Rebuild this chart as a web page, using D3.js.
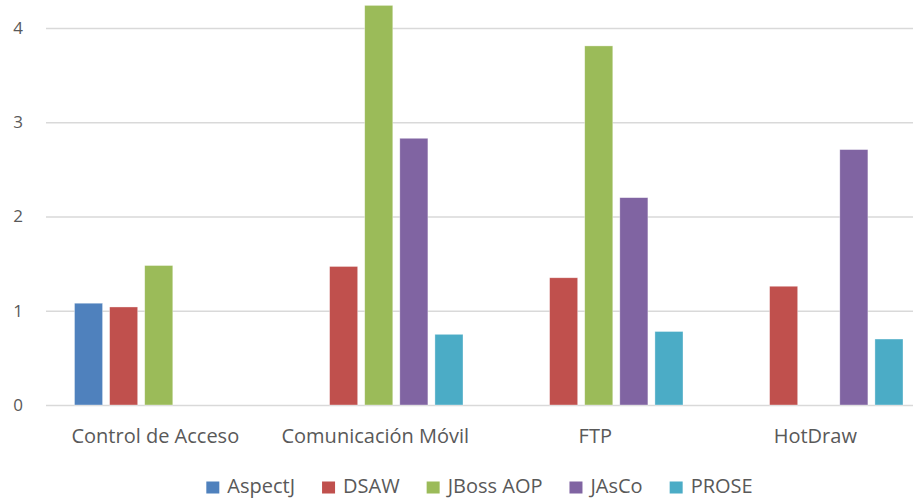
<!DOCTYPE html>
<html><head><meta charset="utf-8">
<script src="https://cdn.jsdelivr.net/npm/d3@7"></script>
<style>
html,body{margin:0;padding:0;background:#fff;overflow:hidden;}
svg{display:block;}
text{font-family:"Open Sans","Noto Sans",sans-serif;fill:#595959;}
</style></head>
<body>
<script>
const categories = ["Control de Acceso", "Comunicación Móvil", "FTP", "HotDraw"];
const seriesNames = ["AspectJ", "DSAW", "JBoss AOP", "JAsCo", "PROSE"];
const seriesColors = ["#4F81BD", "#C0504D", "#9BBB59", "#8064A2", "#4BACC6"];
const AspectJ  = [1.08, null, null, null];
const DSAW     = [1.04, 1.47, 1.35, 1.26];
const JBossAOP = [1.48, 4.24, 3.81, null];
const JAsCo    = [null, 2.83, 2.20, 2.71];
const PROSE    = [null, 0.75, 0.78, 0.70];
const yTicks = [0, 1, 2, 3, 4];

const seriesValues = [AspectJ, DSAW, JBossAOP, JAsCo, PROSE];
const W = 913, H = 498;
const svg = d3.select("body").append("svg").attr("width", W).attr("height", H);

const x = d3.scaleBand().domain(categories).range([45.3, 925.3]).paddingInner(0).paddingOuter(0);
const y = d3.scaleLinear().domain([0, 4.5]).range([405, 405 - 4.5 * 94.25]);
const inner = d3.scaleBand().domain(seriesNames).range([29.2, 29.2 + 5 * 33.7]).paddingInner(0.2).paddingOuter(0);

// gridlines
const grid = d3.axisLeft(y).tickValues(yTicks).tickSize(-(W - 46)).tickFormat("");
svg.append("g").attr("transform", "translate(46,0)").call(grid)
  .call(g => g.select(".domain").remove())
  .call(g => g.selectAll("line").attr("stroke", "#D9D9D9").attr("stroke-width", 1.3));

// y labels
const yAxis = d3.axisLeft(y).tickValues(yTicks).tickSize(0).tickPadding(0).tickFormat(d3.format("d"));
svg.append("g").attr("transform", "translate(23,0)").call(yAxis)
  .call(g => g.select(".domain").remove())
  .call(g => g.selectAll("text").attr("font-size", 17).attr("fill", "#595959")
    .style("font-family", '"Open Sans", sans-serif'));

// bars
seriesNames.forEach((s, si) => {
  const data = categories.map((c, ci) => ({c, v: seriesValues[si][ci]})).filter(d => d.v != null);
  svg.append("g").selectAll("rect").data(data).join("rect")
    .attr("x", d => x(d.c) + inner(s))
    .attr("y", d => y(d.v))
    .attr("width", inner.bandwidth())
    .attr("height", d => y(0) - y(d.v))
    .attr("fill", seriesColors[si])
    .attr("stroke", "#fff").attr("stroke-opacity", 0.5).attr("stroke-width", 0.7);
});

// x labels
const xAxis = d3.axisBottom(x).tickSize(0).tickPadding(0);
svg.append("g").attr("transform", "translate(0,443)").call(xAxis)
  .call(g => g.select(".domain").remove())
  .call(g => g.selectAll("text").attr("font-size", 20).attr("fill", "#595959")
    .attr("dy", "0").attr("y", 0).style("font-family", '"Open Sans", sans-serif'));

// legend
const leg = svg.append("g");
const items = leg.selectAll("g").data(seriesNames).join("g");
items.append("rect").attr("width", 13).attr("height", 12).attr("y", 481.5)
  .attr("fill", (d, i) => seriesColors[i]);
items.append("text").attr("x", 21).attr("y", 493)
  .attr("font-size", 20).text(d => d);
let xpos = 0;
const starts = [];
items.each(function(d) {
  const tw = d3.select(this).select("text").node().getComputedTextLength();
  starts.push(xpos);
  xpos += 21 + tw + 27;
});
const total = xpos - 27;
const x0 = 479.5 - total / 2;
items.attr("transform", (d, i) => `translate(${x0 + starts[i]},0)`);
</script>
</body></html>
